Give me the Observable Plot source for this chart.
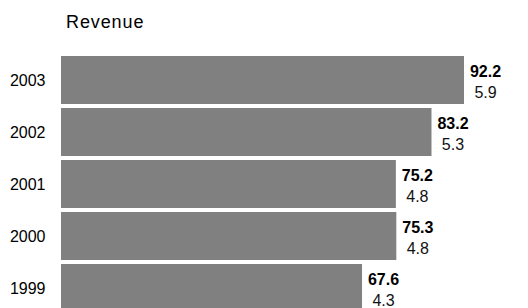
<!DOCTYPE html>
<html>
<head>
<meta charset="utf-8">
<script src="https://cdn.jsdelivr.net/npm/d3@7"></script>
<script src="https://cdn.jsdelivr.net/npm/@observablehq/plot@0.6"></script>
<style>
  html, body { margin: 0; padding: 0; background: #fff; overflow: hidden; }
  #title {
    height: 40px; box-sizing: border-box; padding-top: 12px; padding-left: 66px;
    font: 18px "Liberation Sans", Arial, sans-serif; line-height: 20px;
    letter-spacing: 0.9px; color: #000;
  }
  g[aria-label="revenue"] text { letter-spacing: 0.7px; }
  g[aria-label="secondary"] text { letter-spacing: 1.2px; }
</style>
</head>
<body>
<div id="title">Revenue</div>
<div id="chart"></div>
<script>
const years = ["2003", "2002", "2001", "2000", "1999"];
const revenue = [92.2, 83.2, 75.2, 75.3, 67.6];
const secondary = [5.9, 5.3, 4.8, 4.8, 4.3];
const xMax = 90.5;

const data = years.map((y, i) => ({year: y, revenue: revenue[i], secondary: secondary[i]}));

const chart = Plot.plot({
  width: 528,
  height: 276,
  marginTop: 14,
  marginBottom: 2,
  marginLeft: 61,
  marginRight: 64,
  style: {fontFamily: "'Liberation Sans', Arial, sans-serif", background: "#fff", color: "#000"},
  x: {domain: [0, xMax], axis: null},
  y: {domain: years, paddingInner: 4 / 52, paddingOuter: 2 / 52, axis: null},
  marks: [
    Plot.barX(data, {x: "revenue", y: "year", fill: "#808080", clip: true}),
    Plot.axisY({tickSize: 0, tickPadding: 16, fontSize: 16, label: null, fill: "#000"}),
    Plot.text(data, {
      ariaLabel: "revenue",
      x: d => Math.min(d.revenue, xMax), y: "year", text: d => d.revenue.toFixed(1),
      dx: 21, dy: -9, textAnchor: "middle", fontSize: 16, fontWeight: "bold", fill: "#000"
    }),
    Plot.text(data, {
      ariaLabel: "secondary",
      x: d => Math.min(d.revenue, xMax), y: "year", text: d => d.secondary.toFixed(1),
      dx: 21, dy: 12, textAnchor: "middle", fontSize: 16, fill: "#111"
    })
  ]
});
document.getElementById("chart").append(chart);
</script>
</body>
</html>
